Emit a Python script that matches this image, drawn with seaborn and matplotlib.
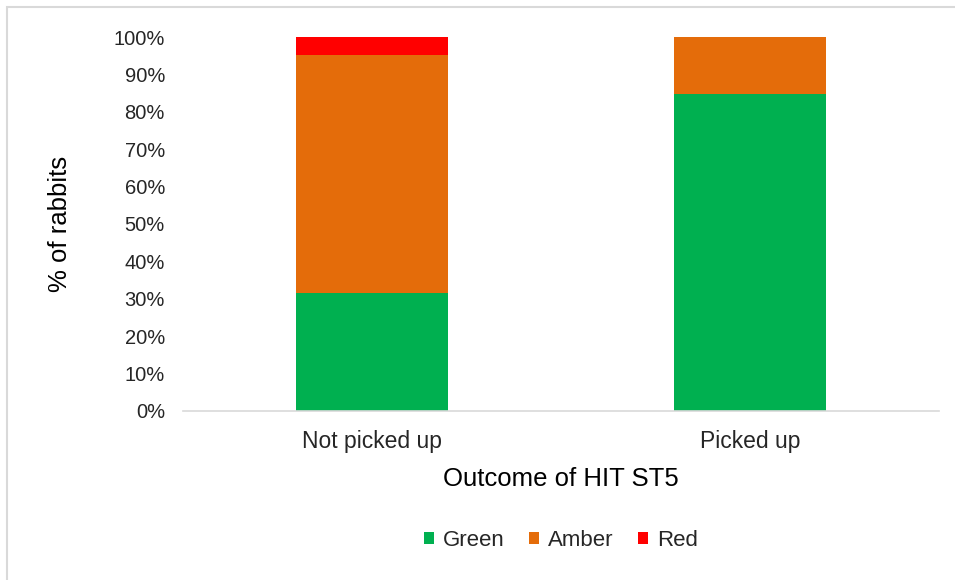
import matplotlib
matplotlib.use('Agg')
import matplotlib.pyplot as plt
import seaborn as sns
import pandas as pd
from matplotlib.patches import Rectangle
from matplotlib.ticker import PercentFormatter

# 数据
outcomes = ['Not picked up', 'Picked up']
green = [31.6, 84.8]
amber = [63.6, 15.2]
red = [4.8, 0.0]

sns.set_theme(style='white')
plt.rcParams['font.family'] = ['Liberation Sans', 'DejaVu Sans']

df = pd.DataFrame({'Outcome': outcomes, 'Green': green, 'Amber': amber, 'Red': red})
df['cum_amber'] = df['Green'] + df['Amber']
df['cum_red'] = df['cum_amber'] + df['Red']

fig = plt.figure(figsize=(9.55, 5.8), dpi=100)
ax = fig.add_axes([0.1916, 0.2914, 0.7916, 0.6448])

# 堆叠柱形图：从总高度往下画
sns.barplot(data=df, x='Outcome', y='cum_red', color='#ff0000', width=0.4,
            saturation=1, ax=ax, label='Red', linewidth=0)
sns.barplot(data=df, x='Outcome', y='cum_amber', color='#e46c0a', width=0.4,
            saturation=1, ax=ax, label='Amber', linewidth=0)
sns.barplot(data=df, x='Outcome', y='Green', color='#00b050', width=0.4,
            saturation=1, ax=ax, label='Green', linewidth=0)

ax.set_xlim(-0.5, 1.5)
ax.set_ylim(0, 100)
ax.set_yticks(range(0, 101, 10))
ax.yaxis.set_major_formatter(PercentFormatter(decimals=0))
ax.tick_params(axis='both', length=0, colors='#262626')
ax.tick_params(axis='y', pad=13, labelsize=14.5)
ax.tick_params(axis='x', pad=14, labelsize=16.5)

for s in ['top', 'right', 'left']:
    ax.spines[s].set_visible(False)
ax.spines['bottom'].set_color('#d9d9d9')
ax.spines['bottom'].set_linewidth(1.2)

ax.set_ylabel('% of rabbits', fontsize=18.5, color='#000000', labelpad=30)
ax.set_xlabel('Outcome of HIT ST5', fontsize=18.5, color='#000000', labelpad=10)

handles, labels = ax.get_legend_handles_labels()
order = [labels.index(l) for l in ['Green', 'Amber', 'Red']]
ax.legend([handles[i] for i in order], [labels[i] for i in order],
          loc='center', bbox_to_anchor=(0.5, -0.345), ncol=3, frameon=False,
          fontsize=16, handlelength=0.45, handleheight=0.45, handletextpad=0.4,
          columnspacing=1.1)

# 图表外框
fig.patches.append(Rectangle((7 / 955, -0.1), 1.2, 1.1 - 7 / 580,
                             transform=fig.transFigure, fill=False,
                             edgecolor='#d9d9d9', lw=1.5))

fig.savefig('out.png', dpi=100)
